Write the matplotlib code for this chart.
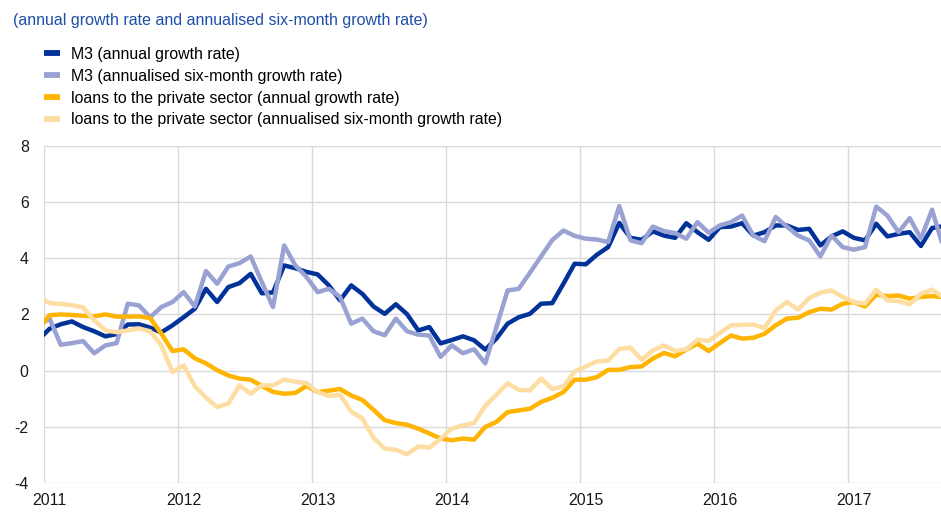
import numpy as np
import matplotlib
matplotlib.use('Agg')
import matplotlib.pyplot as plt

plt.rcParams['font.family'] = ['Liberation Sans', 'DejaVu Sans']
plt.rcParams['axes.unicode_minus'] = False

# monthly observations, Dec 2010 .. Sep 2017 (month index -1 .. 80, 0 = Jan 2011)
months = np.arange(-1, 81)
year_labels = ['2011', '2012', '2013', '2014', '2015', '2016', '2017']

m3_annual = [
    1.10, 1.49, 1.65, 1.75, 1.55, 1.40, 1.22, 1.30, 1.64, 1.65, 1.53, 1.36, 1.61,
    1.90, 2.20, 2.91, 2.44, 2.97, 3.11, 3.44, 2.75, 2.78, 3.74, 3.64, 3.51,
    3.42, 3.03, 2.50, 3.03, 2.73, 2.28, 2.02, 2.36, 2.01, 1.43, 1.55, 0.97,
    1.09, 1.22, 1.08, 0.75, 1.14, 1.67, 1.90, 2.02, 2.38, 2.40, 3.09, 3.80,
    3.78, 4.12, 4.39, 5.25, 4.72, 4.65, 4.95, 4.80, 4.72, 5.24, 4.92, 4.65,
    5.10, 5.12, 5.24, 4.80, 4.92, 5.16, 5.16, 5.00, 5.04, 4.45, 4.77, 4.95,
    4.72, 4.63, 5.22, 4.77, 4.86, 4.92, 4.43, 5.07, 5.13]

m3_sixmonth = [
    1.60, 1.85, 0.92, 0.98, 1.05, 0.62, 0.90, 0.98, 2.38, 2.32, 1.90, 2.26, 2.44,
    2.79, 2.28, 3.54, 3.09, 3.70, 3.82, 4.06, 3.15, 2.26, 4.45, 3.74, 3.33,
    2.79, 2.91, 2.62, 1.67, 1.85, 1.40, 1.26, 1.85, 1.40, 1.28, 1.25, 0.49,
    0.90, 0.62, 0.76, 0.26, 1.55, 2.85, 2.91, 3.48, 4.06, 4.64, 4.98, 4.79,
    4.69, 4.66, 4.57, 5.85, 4.63, 4.53, 5.12, 4.96, 4.89, 4.69, 5.28, 4.90,
    5.16, 5.28, 5.51, 4.80, 4.60, 5.46, 5.12, 4.80, 4.63, 4.06, 4.80, 4.39,
    4.30, 4.39, 5.83, 5.51, 4.92, 5.42, 4.69, 5.72, 4.39]

loans_annual = [
    1.50, 1.97, 2.00, 1.98, 1.95, 1.93, 2.00, 1.92, 1.92, 1.93, 1.87, 1.32, 0.70,
    0.76, 0.44, 0.26, 0.02, -0.17, -0.28, -0.32, -0.54, -0.75, -0.82, -0.79, -0.54,
    -0.76, -0.71, -0.65, -0.88, -1.04, -1.39, -1.76, -1.86, -1.92, -2.06, -2.23, -2.41,
    -2.47, -2.41, -2.45, -2.00, -1.82, -1.47, -1.41, -1.35, -1.11, -0.96, -0.76, -0.32,
    -0.32, -0.23, 0.03, 0.03, 0.13, 0.15, 0.43, 0.63, 0.51, 0.75, 0.96, 0.70,
    0.98, 1.25, 1.14, 1.17, 1.31, 1.61, 1.85, 1.88, 2.08, 2.20, 2.17, 2.38,
    2.44, 2.28, 2.70, 2.65, 2.67, 2.56, 2.62, 2.65, 2.62]

loans_sixmonth = [
    2.60, 2.40, 2.37, 2.33, 2.25, 1.79, 1.43, 1.37, 1.43, 1.50, 1.40, 0.90, -0.05,
    0.19, -0.55, -0.96, -1.29, -1.17, -0.52, -0.82, -0.52, -0.52, -0.32, -0.39, -0.44,
    -0.76, -0.90, -0.85, -1.45, -1.70, -2.39, -2.77, -2.81, -2.97, -2.69, -2.73, -2.42,
    -2.06, -1.94, -1.86, -1.25, -0.85, -0.45, -0.68, -0.70, -0.28, -0.65, -0.56, -0.03,
    0.15, 0.33, 0.36, 0.77, 0.82, 0.39, 0.72, 0.90, 0.70, 0.76, 1.10, 1.06,
    1.34, 1.61, 1.63, 1.64, 1.51, 2.14, 2.44, 2.17, 2.58, 2.77, 2.85, 2.62,
    2.44, 2.38, 2.88, 2.50, 2.47, 2.36, 2.73, 2.88, 2.62]

series_labels = ['M3 (annual growth rate)',
                 'M3 (annualised six-month growth rate)',
                 'loans to the private sector (annual growth rate)',
                 'loans to the private sector (annualised six-month growth rate)']
colors = ['#003299', '#99A2D2', '#FFB400', '#FEDDA2']

W, H = 941, 517
fig = plt.figure(figsize=(W / 100, H / 100), dpi=100)
ax_left, ax_right, ax_top, ax_bottom = 44, 941, 145.5, 483.3
ax = fig.add_axes([ax_left / W, 1 - ax_bottom / H, (ax_right - ax_left) / W,
                   (ax_bottom - ax_top) / H])

x = months + 0.5
handles = []
for data, col, lab in zip([m3_annual, m3_sixmonth, loans_annual, loans_sixmonth],
                          colors, series_labels):
    ln, = ax.plot(x, data, color=col, lw=3.2, label=lab, solid_joinstyle='round',
                  solid_capstyle='butt', zorder=3)
    handles.append(ln)

ax.set_xlim(0, 80.3)
ax.set_ylim(-4, 8)
ax.set_yticks(np.arange(-4, 9, 2))
ax.set_xticks(np.arange(0, 80, 12))
ax.set_xticklabels([])
ax.set_xticks(np.arange(0, 80, 12) + 0.5, minor=True)
ax.set_xticklabels(year_labels, minor=True)
ax.grid(True, which='major', color='#d9d9d9', lw=1.0)
ax.set_axisbelow(True)
for s in ax.spines.values():
    s.set_visible(False)
ax.tick_params(which='both', length=0, labelsize=11.4, colors='#1a1a1a')
ax.tick_params(axis='y', pad=11)
ax.tick_params(axis='x', which='minor', pad=7)

fig.text(13 / W, 1 - 20 / H, '(annual growth rate and annualised six-month growth rate)',
         color='#1F4EA8', fontsize=11.5, va='center', ha='left')

leg = fig.legend(handles=handles, loc='upper left', bbox_to_anchor=(44 / W, 1 - 47 / H),
                 frameon=False, fontsize=11.4, handlelength=1.0, handletextpad=0.7,
                 labelspacing=0.43, borderpad=0, borderaxespad=0)
for lh in leg.get_lines():
    lh.set_linewidth(4.2)

fig.savefig('out.png', dpi=100)
